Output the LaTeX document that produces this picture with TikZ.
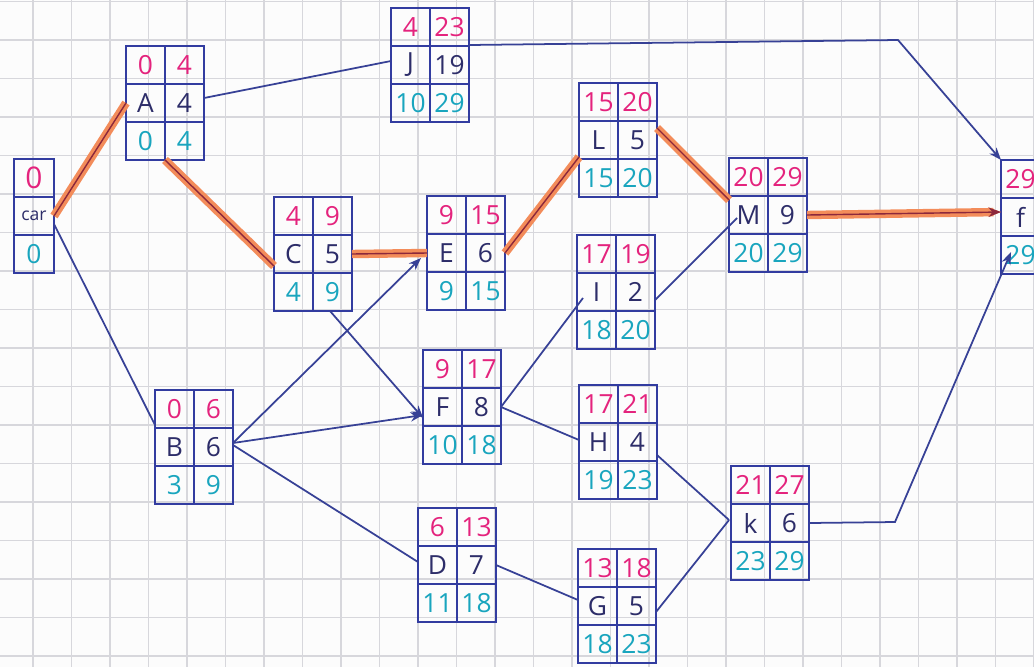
\documentclass[tikz,border=0pt]{standalone}
\usepackage{fontspec}
\setmainfont{Open Sans}
\usetikzlibrary{arrows.meta,calc}
\definecolor{boxblue}{RGB}{50,60,160}
\definecolor{linkblue}{RGB}{55,65,150}
\definecolor{earlypink}{RGB}{228,35,125}
\definecolor{lateteal}{RGB}{25,165,190}
\definecolor{actnavy}{RGB}{45,45,105}
\definecolor{critorange}{RGB}{243,140,90}
\definecolor{critdark}{RGB}{140,40,60}
\definecolor{paper}{RGB}{252,252,252}
\definecolor{gridgrey}{RGB}{215,215,220}
\tikzset{
  pert/.style     = {rectangle, draw=boxblue, line width=1.3pt, minimum width=1.56cm,
                     minimum height=2.28cm, inner sep=0pt, outer sep=0pt},
  startbox/.style = {pert, minimum width=0.8cm},
  cellline/.style = {draw=boxblue, line width=1.1pt},
  early/.style    = {text=earlypink, font=\fontsize{15}{15}\selectfont},
  actname/.style  = {text=actnavy, font=\fontsize{15}{15}\selectfont},
  late/.style     = {text=lateteal, font=\fontsize{15}{15}\selectfont},
  gridline/.style = {draw=gridgrey, line width=0.6pt},
  link/.style     = {draw=linkblue, line width=1pt},
  arr/.style      = {link, -{Stealth[length=2.5mm]}},
  crit/.style     = {draw=critdark, line width=0.8pt,
                     preaction={draw=critorange, line width=4.8pt}},
}
% activity box: name, position, ES, EF, activity, duration, LS, LF
\newcommand{\pertbox}[8]{%
  \node[pert] (#1) at (#2) {};
  \draw[cellline] (#1.north) -- (#1.south);
  \draw[cellline] ([shift={(0,38)}]#1.north west) -- ([shift={(0,38)}]#1.north east);
  \draw[cellline] ([shift={(0,-38)}]#1.south west) -- ([shift={(0,-38)}]#1.south east);
  \node[early]   at ([shift={(-19.5,19)}]#1.north)  {#3};
  \node[early]   at ([shift={(19.5,19)}]#1.north)   {#4};
  \node[actname] at ([shift={(-19.5,0)}]#1.center)  {#5};
  \node[actname] at ([shift={(19.5,0)}]#1.center)   {#6};
  \node[late]    at ([shift={(-19.5,-19)}]#1.south) {#7};
  \node[late]    at ([shift={(19.5,-19)}]#1.south)  {#8};
}

\begin{document}
\begin{tikzpicture}[x=0.02cm, y=-0.02cm]

\useasboundingbox (0,0) rectangle (1034,667);
\clip (0,0) rectangle (1034,667);
\fill[paper] (0,0) rectangle (1034,667);

% squared paper
\foreach \gx in {0,...,26}
  \draw[gridline] ({33+38.5*\gx},0) -- ({33+38.5*\gx},667);
\foreach \gy in {0,...,17}
  \draw[gridline] (0,{1.5+38.5*\gy}) -- (1034,{1.5+38.5*\gy});

% start node
\node[startbox] (start) at (34,216) {};
\draw[cellline] ([shift={(0,38)}]start.north west) -- ([shift={(0,38)}]start.north east);
\draw[cellline] ([shift={(0,-38)}]start.south west) -- ([shift={(0,-38)}]start.south east);
\node[early, font=\fontsize{17}{17}\selectfont] at ([shift={(0,19)}]start.north) {0};
\node[actname, font=\fontsize{10}{10}\selectfont] at (start.center) {car};
\node[late] at ([shift={(0,-19)}]start.south) {0};

% activities
\pertbox{A}{165,103}{0}{4}{A}{4}{0}{4}
\pertbox{J}{430,65}{4}{23}{J}{19}{10}{29}
\pertbox{C}{313,254}{4}{9}{C}{5}{4}{9}
\pertbox{E}{466,253}{9}{15}{E}{6}{9}{15}
\pertbox{L}{618,140}{15}{20}{L}{5}{15}{20}
\pertbox{M}{768,215}{20}{29}{M}{9}{20}{29}
\pertbox{I}{616,292}{17}{19}{I}{2}{18}{20}
\pertbox{F}{462,407}{9}{17}{F}{8}{10}{18}
\pertbox{B}{194,447}{0}{6}{B}{6}{3}{9}
\pertbox{H}{618,442}{17}{21}{H}{4}{19}{23}
\pertbox{D}{457,565}{6}{13}{D}{7}{11}{18}
\pertbox{G}{617,606}{13}{18}{G}{5}{18}{23}
\pertbox{K}{770,523}{21}{27}{k}{6}{23}{29}

% end node (cut by the page edge)
\pertbox{fin}{1040,217}{29}{}{f}{}{29}{}

% critical path
\draw[crit] (start.east) -- (A.west);
\draw[crit] (A.south) -- ([shift={(0,12)}]C.west);
\draw[crit] (C.east) -- (E.west);
\draw[crit] (E.east) -- ([shift={(0,17)}]L.west);
\draw[crit] ([shift={(0,-12)}]L.east) -- ([shift={(0,-15)}]M.west);
\draw[crit, -{Stealth[length=2.5mm]}] (M.east) -- ([shift={(0,-5)}]fin.west);

% other links
\draw[link] ([shift={(0,8)}]start.east) -- ([shift={(0,-22)}]B.west);
\draw[link] ([shift={(0,-5)}]A.east) -- ([shift={(0,-4)}]J.west);
\draw[arr] ([shift={(17,0)}]C.south) -- ([shift={(0,11)}]F.west);
\draw[arr] ([shift={(0,-4)}]B.east) -- ([shift={(-6,5)}]E.west);
\draw[arr] ([shift={(0,-4)}]B.east) -- ([shift={(0,8)}]F.west);
\draw[link] ([shift={(0,-2)}]B.east) -- ([shift={(0,-3)}]D.west);
\draw[link] ([shift={(0,8)}]I.east) -- ([shift={(8,3)}]M.west);
\draw[link] (F.east) -- ([shift={(6,6)}]I.west);
\draw[link] (F.east) -- ([shift={(0,-2)}]H.west);
\draw[link] ([shift={(0,13)}]H.east) -- ([shift={(-2,-3)}]K.west);
\draw[link] (D.east) -- ([shift={(0,-6)}]G.west);
\draw[link] ([shift={(0,6)}]G.east) -- ([shift={(-2,-3)}]K.west);

\coordinate (jbend) at (898,40);
\coordinate (kbend) at (895,522);
\draw[arr] ([shift={(0,-20)}]J.east) -- (jbend) -- (fin.north west);
\draw[arr] (K.east) -- (kbend) -- ([shift={(10,-22)}]fin.south west);

\end{tikzpicture}
\end{document}
